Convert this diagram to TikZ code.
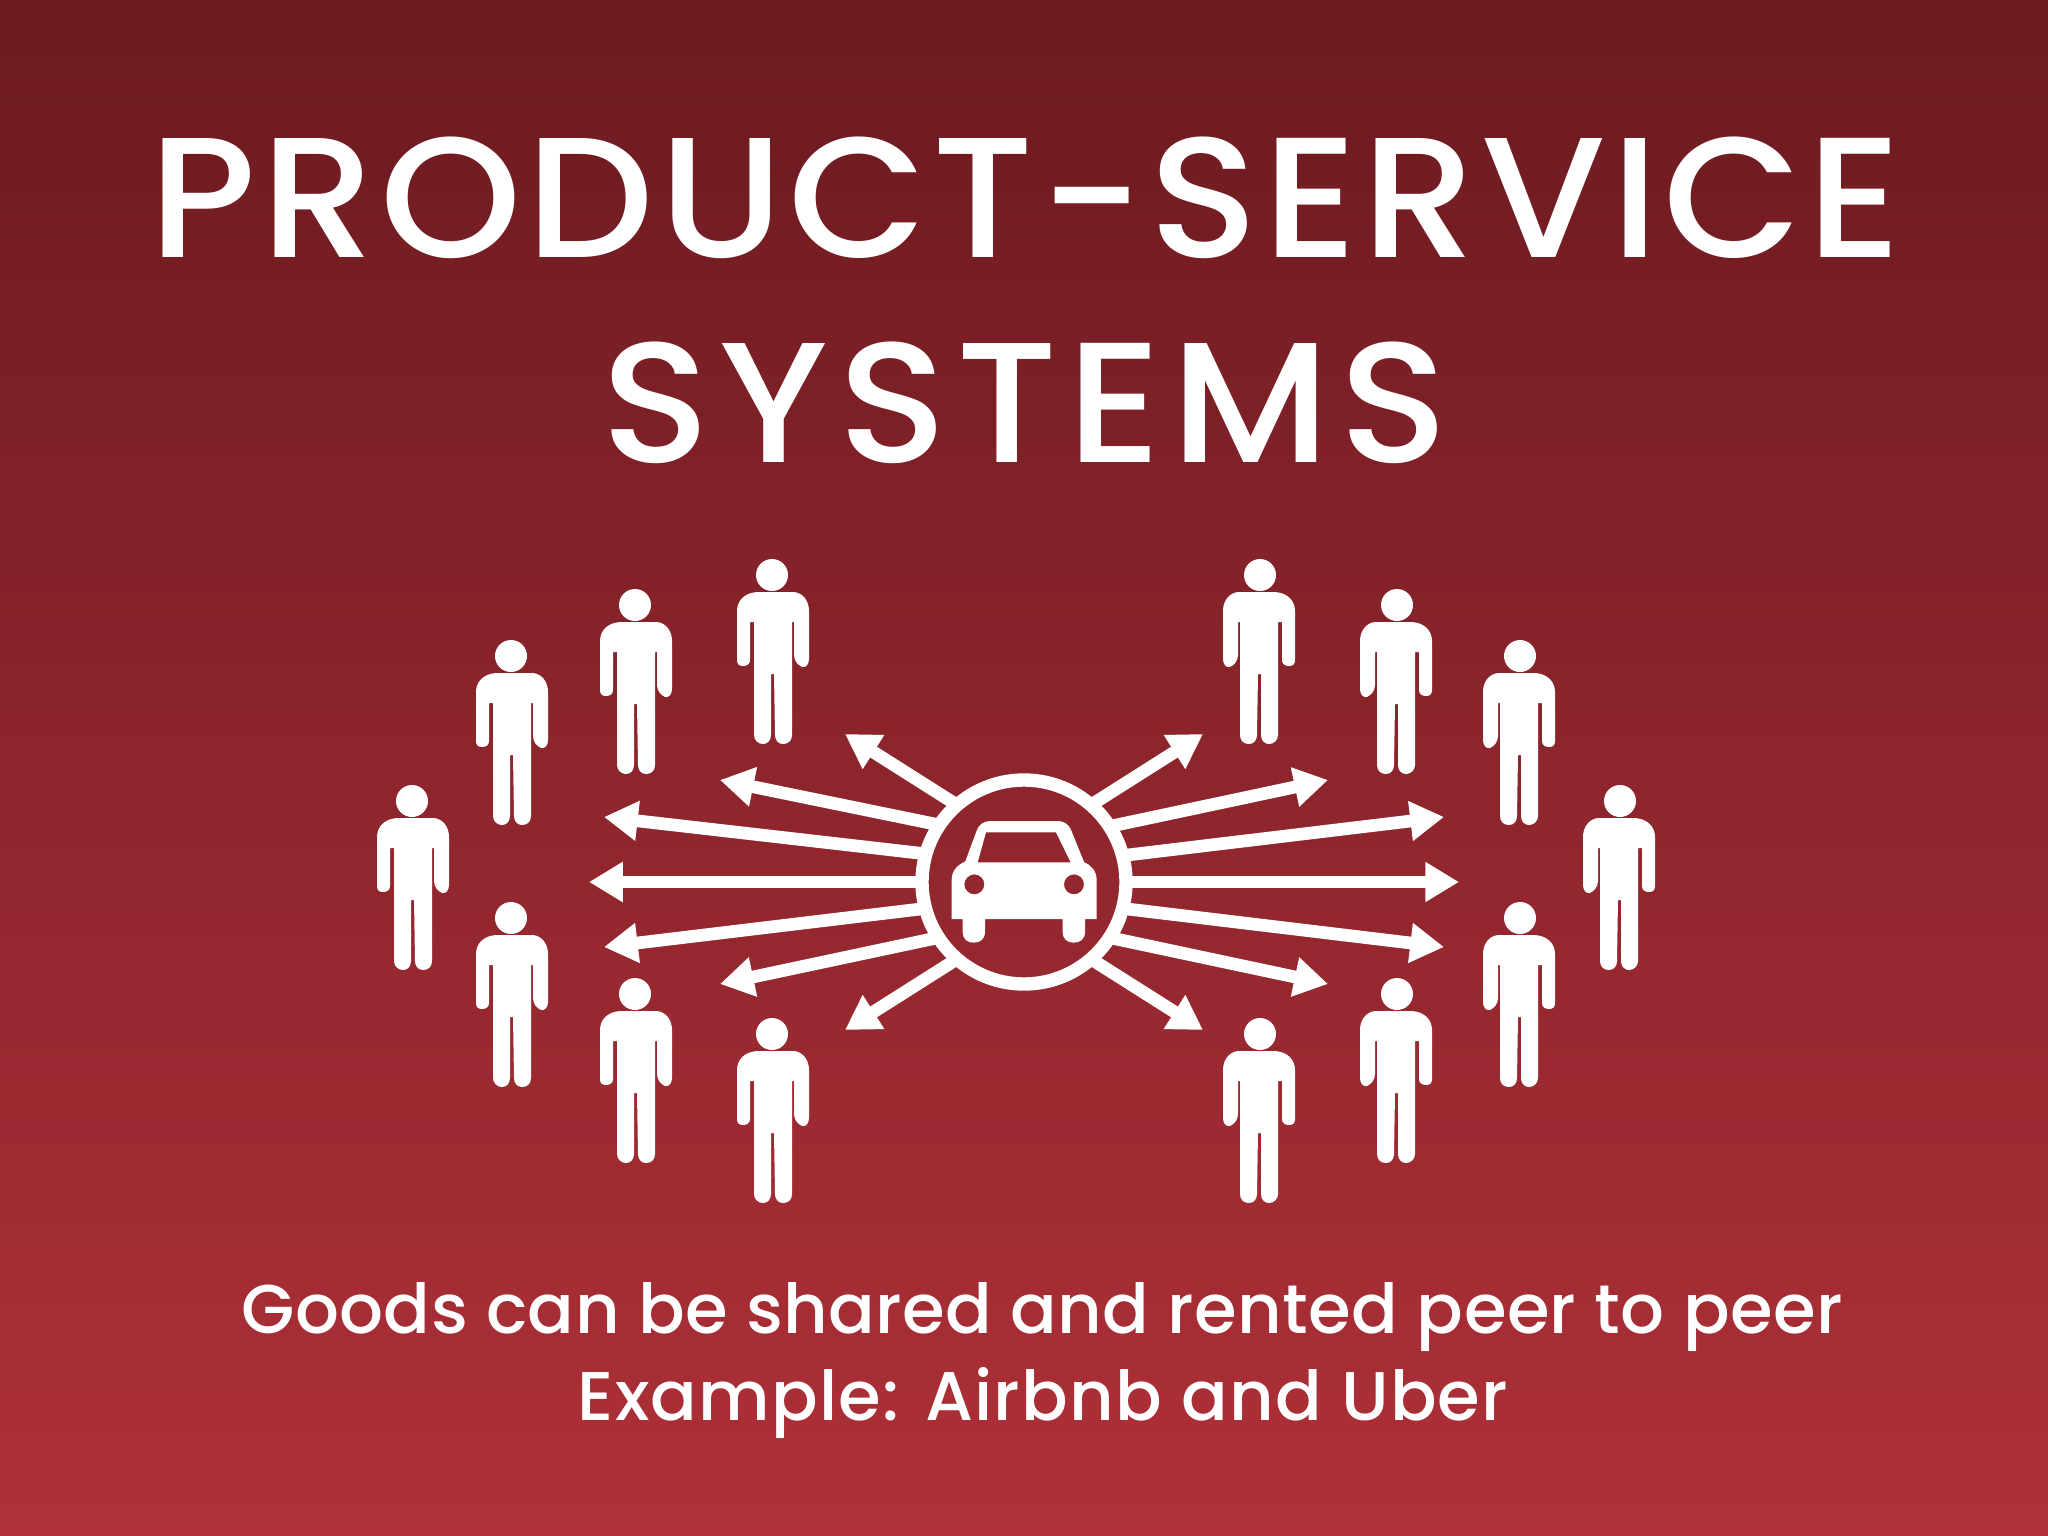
\documentclass[tikz,border=0pt]{standalone}
\usepackage{fontspec}
\setmainfont{Poppins Medium}
\usepackage{xcolor}
\usetikzlibrary{arrows.meta,calc,positioning}
\definecolor{PssTop}{HTML}{6B1A20}
\definecolor{PssMid}{HTML}{8B252B}
\definecolor{PssBottom}{HTML}{AF3038}
\tikzset{
  titletext/.style={anchor=base,text=white,inner sep=0pt,
    font=\fontsize{48.7}{50}\selectfont\addfontfeature{LetterSpace=3,FakeStretch=1.05}},
  subtext/.style={anchor=base,text=white,inner sep=0pt,
    font=\fontsize{19.6}{22}\selectfont\addfontfeature{LetterSpace=0.6}},
  spoke/.style={-{Triangle[length=9.6pt,width=10.8pt]},white,line width=3.6pt},
  personfig/.pic={
    \fill[white] (0,0) circle[radius=16];
    \fill[white]
      (-15,17) -- (22,17)
      .. controls (31,18) and (37,26) .. (37,36)
      -- (37,84) .. controls (37,89) and (34,93) .. (30,92)
      .. controls (26,90) and (22,86) .. (22,80)
      -- (22,47) -- (20,47) -- (20,160)
      .. controls (20,166) and (16,169) .. (11,169)
      .. controls (6,169) and (3,165) .. (3,160)
      -- (2,99) -- (-1,99) -- (-1,160)
      .. controls (-1,166) and (-5,169) .. (-9,169)
      .. controls (-14,169) and (-18,165) .. (-18,160)
      -- (-18,47) -- (-22,47) -- (-22,85)
      .. controls (-22,89) and (-25,91) .. (-29,91)
      .. controls (-33,91) and (-35,89) .. (-35,85)
      -- (-35,36) .. controls (-35,26) and (-28,18) .. (-15,17)
      -- cycle;
  }
}
\begin{document}
\begin{tikzpicture}[x=0.01cm,y=-0.01cm]

  \shade[top color=PssTop,middle color=PssMid,bottom color=PssBottom]
    (0,0) rectangle (2048,1536);

  \node[titletext] (titleA) at (1026,257) {PRODUCT-SERVICE};
  \node[titletext] (titleB) at (1025,462) {\addfontfeature{LetterSpace=5.7}SYSTEMS};

  % people on the left
  \foreach \px/\py in {412/801,511/656,635/605,772/575,511/918,635/994,772/1034}
    \pic at (\px,\py) {personfig};

  % people on the right
  \foreach \px/\py in {1620/801,1520/656,1397/605,1260/575,1520/918,1397/994,1260/1034}
    \pic[xscale=-1] at (\px,\py) {personfig};

  \node[circle,draw=white,line width=3.8pt,minimum size=204*0.01cm,
    inner sep=0pt,outer sep=0pt] (hub) at (1024,882) {};

  % free ends of the spokes
  \foreach \tipname/\hubangle/\tx/\ty in {
      a/180/589/882,b/164.5/604/817,c/146.6/720/780,d/131/845/734,
      e/195.5/604/947,f/213.4/720/984,g/229/845/1030,
      h/0/1459/882,i/15.5/1444/817,j/33.4/1328/780,k/49/1203/734,
      l/-15.5/1444/947,m/-33.4/1328/984,n/-49/1203/1030} {
    \coordinate (\tipname) at (\tx,\ty);
    \draw[spoke] (hub.\hubangle) -- (\tipname);
  }

  % car, traced in thirds of a pixel
  \begin{scope}[shift={(880,740)},x=0.01cm/3,y=-0.01cm/3]
    \fill[white,even odd rule]
      (215,537) -- (248,537) -- (248,575)
      .. controls (248,598) and (262,608) .. (281,608)
      .. controls (300,608) and (315,598) .. (315,575)
      -- (315,537) -- (548,537) -- (548,575)
      .. controls (548,598) and (562,608) .. (581,608)
      .. controls (600,608) and (615,598) .. (615,575)
      -- (615,537) -- (650,537) -- (650,420)
      .. controls (650,392) and (632,375) .. (612,366)
      -- (574,272) .. controls (565,251) and (552,243) .. (530,243)
      -- (335,243) .. controls (312,243) and (298,251) .. (290,272)
      -- (256,364) .. controls (232,375) and (215,392) .. (215,420)
      -- cycle
      (318,277) -- (528,277) -- (572,367) -- (293,367) -- cycle
      (283,433) circle[radius=30]
      (582,433) circle[radius=30];
  \end{scope}

  \node[subtext] (subA) at (1042,1333) {Goods can be shared and rented peer to peer};
  \node[subtext] (subB) at (1043,1420) {\addfontfeature{LetterSpace=1.8}Example: Airbnb and Uber};

\end{tikzpicture}
\end{document}
